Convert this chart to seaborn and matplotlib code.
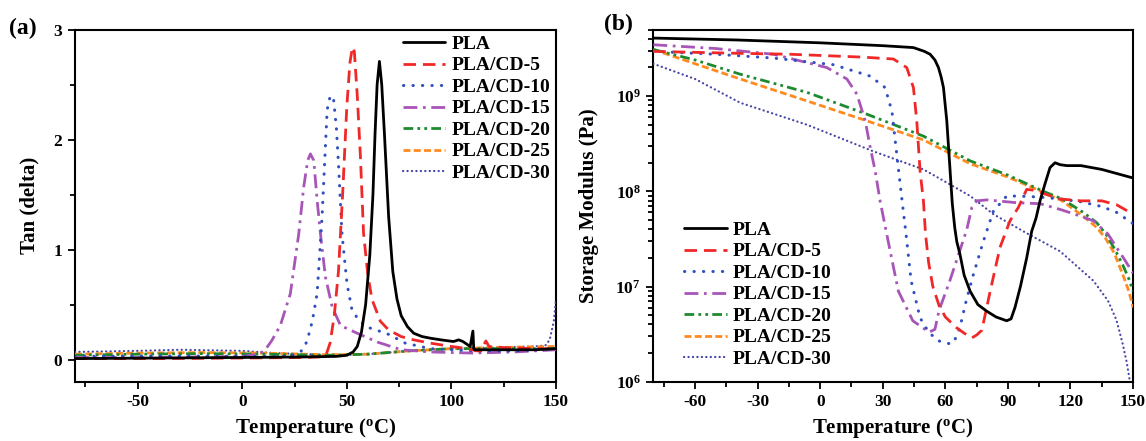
import numpy as np
import seaborn as sns
import matplotlib
matplotlib.use("Agg")
import matplotlib.pyplot as plt
from matplotlib.ticker import MultipleLocator, LogLocator

# ---- (a) tan delta vs temperature ----
t_pla_a = [-80, -40, 0, 30, 45, 50, 53, 55, 57, 59, 61, 62.5, 63.5, 64.5, 65.6, 66.7, 68, 70, 72,
           74, 76, 79, 82, 86, 90, 95, 101, 103.5, 105.5, 109, 110.3, 110.7, 111.1, 112, 125, 140, 150]
tan_pla = [0.01, 0.015, 0.02, 0.025, 0.03, 0.04, 0.07, 0.12, 0.25, 0.5, 0.95, 1.5, 2.05, 2.5, 2.71,
           2.5, 2.05, 1.3, 0.8, 0.55, 0.4, 0.3, 0.24, 0.21, 0.195, 0.18, 0.165, 0.18, 0.165, 0.12,
           0.26, 0.1, 0.09, 0.09, 0.09, 0.09, 0.1]

t_cd5_a = [-80, -40, 0, 30, 37, 40, 42, 44, 46, 48, 50, 51.5, 52.7, 53.6, 55, 56.5, 58, 60, 62, 66,
           70, 76, 82, 90, 100, 108, 112, 114, 116.5, 118, 125, 140, 150]
tan_cd5 = [0.01, 0.01, 0.015, 0.02, 0.025, 0.04, 0.15, 0.4, 0.8, 1.5, 2.3, 2.7, 2.84, 2.8, 2.4,
           1.85, 1.15, 0.78, 0.55, 0.35, 0.27, 0.21, 0.18, 0.15, 0.12, 0.1, 0.08, 0.08, 0.17,
           0.12, 0.11, 0.1, 0.1]

t_cd10_a = [-80, -40, 0, 20, 26, 29, 31, 33.5, 35.8, 37, 38.2, 39.3, 40.6, 42.1, 43.7, 45, 46.1,
            47.7, 50.1, 52.5, 55, 59, 64, 70, 78, 90, 110, 130, 150]
tan_cd10 = [0.03, 0.035, 0.03, 0.03, 0.05, 0.09, 0.17, 0.35, 0.6, 0.95, 1.31, 1.75, 2.27, 2.4,
            2.36, 2.11, 1.75, 1.14, 0.69, 0.45, 0.38, 0.3, 0.27, 0.23, 0.15, 0.1, 0.08, 0.08, 0.1]

t_cd15_a = [-80, -40, 0, 8, 11, 14, 18.2, 23, 27, 29.4, 31.3, 32.6, 34.2, 35.8, 37.7, 39.8, 43,
            47, 55, 64.6, 76, 90, 110, 130, 150]
tan_cd15 = [0.02, 0.02, 0.03, 0.05, 0.09, 0.17, 0.31, 0.6, 1.14, 1.57, 1.81, 1.87, 1.81, 1.45,
            1.09, 0.75, 0.48, 0.31, 0.24, 0.16, 0.09, 0.07, 0.06, 0.07, 0.09]

t_cd20_a = [-80, -50, -20, 10, 40, 60, 80, 100, 120, 150]
tan_cd20 = [0.04, 0.05, 0.055, 0.05, 0.04, 0.05, 0.08, 0.1, 0.1, 0.1]

t_cd25_a = [-80, -50, -20, 10, 40, 60, 80, 100, 120, 150]
tan_cd25 = [0.05, 0.06, 0.065, 0.06, 0.045, 0.05, 0.08, 0.1, 0.11, 0.12]

t_cd30_a = [-80, -50, -30, 0, 15, 30, 45, 60, 80, 100, 120, 140, 145, 147, 149, 150]
tan_cd30 = [0.07, 0.08, 0.09, 0.08, 0.06, 0.05, 0.04, 0.05, 0.08, 0.1, 0.11, 0.12, 0.13, 0.18,
            0.35, 0.55]

# ---- (b) storage modulus, log10(Pa) ----
t_pla_b = [-80, -40, 0, 30, 44.7, 50, 52.7, 55, 56.7, 58, 59.1, 60.7, 62.3, 63.3, 64.5, 65.5, 67,
           69, 71.9, 75.6, 79.9, 84.3, 89.4, 91.5, 93.4, 96, 99, 101.4, 103.5, 105.4, 107.8,
           110.2, 112.6, 115, 118.2, 125, 135, 150]
logE_pla = [9.61, 9.59, 9.56, 9.53, 9.51, 9.47, 9.44, 9.38, 9.30, 9.20, 9.09, 8.74, 8.21, 7.88,
            7.62, 7.47, 7.34, 7.12, 6.95, 6.81, 6.74, 6.68, 6.64, 6.66, 6.78, 7.0, 7.30, 7.58,
            7.72, 7.90, 8.08, 8.25, 8.30, 8.28, 8.27, 8.27, 8.23, 8.14]

t_cd5_b = [-80, -40, -14.4, 20, 35.1, 41.5, 44.7, 46.3, 47.9, 49.5, 50.5, 52, 54, 57, 60, 65.2,
           69, 72.7, 75, 77.5, 81.5, 86.2, 91, 95, 99, 103, 108, 115, 125, 135, 142, 150]
logE_cd5 = [9.47, 9.45, 9.44, 9.41, 9.39, 9.30, 9.09, 8.74, 8.21, 7.90, 7.55, 7.25, 7.0, 6.80,
            6.68, 6.57, 6.51, 6.46, 6.49, 6.54, 6.95, 7.41, 7.69, 7.83, 8.02, 8.01, 7.97, 7.92,
            7.90, 7.90, 7.86, 7.76]

t_cd10_b = [-80, -50, -22.4, 6.4, 24, 31.1, 34.4, 36.7, 39.1, 41, 43.6, 47.9, 52, 56.6, 61.8, 64,
            67, 70, 73.5, 78.3, 83, 89.4, 95, 105, 115, 125, 135, 142, 150]
logE_cd10 = [9.47, 9.44, 9.40, 9.33, 9.21, 9.09, 8.84, 8.39, 7.93, 7.58, 7.06, 6.67, 6.52, 6.43,
             6.40, 6.41, 6.57, 6.85, 7.13, 7.48, 7.79, 7.95, 7.95, 7.94, 7.92, 7.89, 7.84, 7.78,
             7.66]

t_cd15_b = [-80, -50, -22.4, 3.2, 12.8, 17.6, 21.6, 24, 26.4, 28.7, 31, 33.2, 37.5, 44.4, 52.2,
            55, 57, 62, 67, 70.3, 72.7, 75.1, 80, 94.2, 105.4, 115, 122, 131, 138, 143, 146, 150]
logE_cd15 = [9.54, 9.50, 9.44, 9.30, 9.18, 9.02, 8.74, 8.46, 8.21, 7.90, 7.65, 7.41, 6.95, 6.64,
             6.52, 6.55, 6.75, 7.05, 7.38, 7.60, 7.83, 7.90, 7.91, 7.88, 7.87, 7.81, 7.76, 7.69,
             7.55, 7.38, 7.28, 7.14]

t_cd20_b = [-80, -60, -38.3, -6.4, 22.4, 49.5, 71.9, 90, 107, 116, 126, 132.6, 137, 141, 145, 148, 150]
logE_cd20 = [9.49, 9.38, 9.23, 9.04, 8.81, 8.58, 8.32, 8.17, 8.00, 7.92, 7.78, 7.67, 7.55, 7.40,
             7.23, 7.08, 6.95]

t_cd25_b = [-80, -60, -38.3, -6.4, 22.4, 49.5, 71.9, 90, 107, 116, 126, 132.6, 137, 141, 145, 148, 150]
logE_cd25 = [9.49, 9.34, 9.18, 8.95, 8.74, 8.54, 8.29, 8.15, 7.99, 7.90, 7.74, 7.62, 7.50, 7.35,
             7.13, 6.95, 6.78]

t_cd30_b = [-80, -60, -38.3, -6.4, 25.5, 49.5, 60, 72, 83, 99, 115, 131, 138, 142, 145, 147, 148.5]
logE_cd30 = [9.34, 9.18, 8.93, 8.70, 8.42, 8.23, 8.10, 7.95, 7.76, 7.56, 7.37, 7.06, 6.85, 6.65,
             6.4, 6.2, 6.0]

labels = ["PLA", "PLA/CD-5", "PLA/CD-10", "PLA/CD-15", "PLA/CD-20", "PLA/CD-25", "PLA/CD-30"]
colors = ["black", "#F02828", "#3050C0", "#A855B8", "#1E8A30", "#FF8A20", "#4545A8"]
styles = [
    dict(linestyle="-", linewidth=2.0),
    dict(linestyle=(0, (4.5, 2.5)), linewidth=2.0),
    dict(linestyle=(0, (0.1, 3.0)), linewidth=2.2, dash_capstyle="round"),
    dict(linestyle=(0, (5, 2, 1, 2)), linewidth=2.0),
    dict(linestyle=(0, (3.5, 1.5, 1, 1.5, 1, 1.5)), linewidth=2.0),
    dict(linestyle=(0, (2.5, 1.2)), linewidth=2.0),
    dict(linestyle=(0, (0.1, 1.9)), linewidth=1.6, dash_capstyle="round"),
]

sns.set_theme(style="ticks")
plt.rcParams["font.family"] = ["Liberation Serif", "DejaVu Serif"]
plt.rcParams["font.weight"] = "bold"
plt.rcParams["axes.labelweight"] = "bold"
plt.rcParams["mathtext.default"] = "regular"
plt.rcParams["axes.linewidth"] = 1.5
plt.rcParams["axes.unicode_minus"] = False
plt.rcParams["text.color"] = "black"
plt.rcParams["axes.labelcolor"] = "black"

fig = plt.figure(figsize=(11.46, 4.41), dpi=100)
ax_a = fig.add_axes([0.0654, 0.1345, 0.4197, 0.7986])
ax_b = fig.add_axes([0.5701, 0.1345, 0.4186, 0.7986])

data_a = [(t_pla_a, tan_pla), (t_cd5_a, tan_cd5), (t_cd10_a, tan_cd10), (t_cd15_a, tan_cd15),
          (t_cd20_a, tan_cd20), (t_cd25_a, tan_cd25), (t_cd30_a, tan_cd30)]
data_b = [(t_pla_b, logE_pla), (t_cd5_b, logE_cd5), (t_cd10_b, logE_cd10), (t_cd15_b, logE_cd15),
          (t_cd20_b, logE_cd20), (t_cd25_b, logE_cd25), (t_cd30_b, logE_cd30)]

# draw back to front so PLA sits on top
for i in reversed(range(len(labels))):
    t, v = data_a[i]
    sns.lineplot(x=t, y=v, ax=ax_a, color=colors[i], label=labels[i], sort=False,
                 estimator=None, errorbar=None, zorder=10 - i, **styles[i])
    t, e = data_b[i]
    sns.lineplot(x=t, y=10 ** np.array(e), ax=ax_b, color=colors[i], label=labels[i], sort=False,
                 estimator=None, errorbar=None, zorder=10 - i, **styles[i])

for ax in (ax_a, ax_b):
    for sp in ax.spines.values():
        sp.set_visible(True)
        sp.set_linewidth(1.5)
        sp.set_color("black")
    ax.tick_params(which="both", direction="out", top=False, right=False, width=1.3,
                   labelsize=12.5, pad=4, colors="black")
    ax.tick_params(which="major", length=5)
    ax.tick_params(which="minor", length=3.5)
    ax.set_xlim(-80, 150)
    ax.set_xlabel("Temperature ($^{o}$C)", fontsize=15, fontweight="bold", labelpad=4)

ax_a.set_ylim(-0.2, 3.0)
ax_a.xaxis.set_major_locator(MultipleLocator(50))
ax_a.xaxis.set_minor_locator(MultipleLocator(25))
ax_a.yaxis.set_major_locator(MultipleLocator(1))
ax_a.yaxis.set_minor_locator(MultipleLocator(0.5))
ax_a.set_ylabel("Tan (delta)", fontsize=15, fontweight="bold", labelpad=10)

ax_b.set_yscale("log")
ax_b.set_ylim(1e6, 10 ** 9.7)
ax_b.xaxis.set_major_locator(MultipleLocator(30))
ax_b.xaxis.set_minor_locator(MultipleLocator(15))
ax_b.yaxis.set_major_locator(LogLocator(base=10, numticks=10))
ax_b.yaxis.set_minor_locator(LogLocator(base=10, subs=np.arange(2, 10), numticks=20))
ax_b.set_ylabel("Storage Modulus (Pa)", fontsize=15, fontweight="bold", labelpad=12)

for ax in (ax_a, ax_b):
    for lab in ax.get_xticklabels() + ax.get_yticklabels():
        lab.set_fontweight("bold")

handles_a, _ = ax_a.get_legend_handles_labels()
handles_b, _ = ax_b.get_legend_handles_labels()
ax_a.legend(handles_a[::-1], labels, loc="upper right", bbox_to_anchor=(1.0, 1.0), frameon=False,
            prop={"family": "Liberation Serif", "weight": "bold", "size": 14},
            handlelength=2.2, handletextpad=0.3, labelspacing=0.2, borderaxespad=0.1,
            borderpad=0.2)
ax_b.legend(handles_b[::-1], labels, loc="lower left", bbox_to_anchor=(0.056, 0.028), frameon=False,
            prop={"family": "Liberation Serif", "weight": "bold", "size": 14},
            handlelength=2.2, handletextpad=0.3, labelspacing=0.2, borderaxespad=0.0,
            borderpad=0.2)

fig.text(0.008, 0.935, "(a)", fontsize=17, fontweight="bold", va="center", ha="left")
fig.text(0.527, 0.945, "(b)", fontsize=17, fontweight="bold", va="center", ha="left")

fig.savefig("out.png", dpi=100)
